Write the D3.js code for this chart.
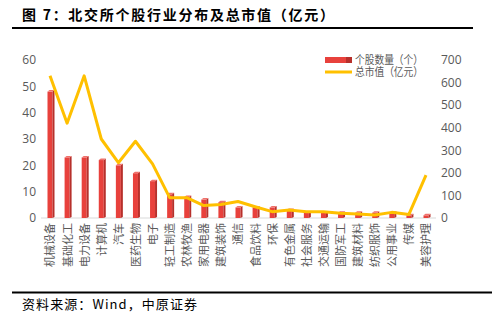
<!DOCTYPE html>
<html>
<head>
<meta charset="utf-8">
<script src="https://cdn.jsdelivr.net/npm/d3@7"></script>
<style>
  body { margin: 0; background: #fff; }
  svg text { font-family: "Noto Sans CJK SC", "Noto Sans", sans-serif; }
</style>
</head>
<body>
<div id="chart"></div>
<script>
// industries, ordered as in the figure
const industries = ['机械设备', '基础化工', '电力设备', '计算机', '汽车', '医药生物', '电子', '轻工制造',
  '农林牧渔', '家用电器', '建筑装饰', '通信', '食品饮料', '环保', '有色金属', '社会服务', '交通运输',
  '国防军工', '建筑材料', '纺织服饰', '公用事业', '传媒', '美容护理'];
// number of listed stocks per industry (left axis)
const stockCount = [48, 23, 23, 22, 20, 17, 14, 9, 8, 7, 6, 4, 4, 4, 3, 2, 2, 2, 2, 2, 2, 1, 1];
// total market value, 亿元 (right axis)
const marketValue = [630, 420, 630, 350, 245, 340, 240, 90, 90, 55, 60, 73, 50, 28, 35, 28, 28, 21, 18, 13, 25, 16, 190];

const leftTicks = [0, 10, 20, 30, 40, 50, 60];
const rightTicks = [0, 100, 200, 300, 400, 500, 600, 700];

const W = 492, H = 322;
const plot = { left: 41, right: 436, top: 60, bottom: 218 };

const svg = d3.select('#chart').append('svg')
  .attr('width', W)
  .attr('height', H);

// title and rules
svg.append('text')
  .attr('x', 22).attr('y', 20)
  .attr('textLength', 312)
  .attr('lengthAdjust', 'spacing')
  .style('font-size', '14px')
  .style('font-weight', 'bold')
  .style('fill', '#000')
  .text('图 7：北交所个股行业分布及总市值（亿元）');
svg.append('rect').attr('x', 12).attr('y', 27).attr('width', 461).attr('height', 2).attr('fill', '#000');
svg.append('rect').attr('x', 12).attr('y', 291.5).attr('width', 480).attr('height', 2).attr('fill', '#000');
svg.append('text')
  .attr('x', 22).attr('y', 309)
  .attr('textLength', 175)
  .attr('lengthAdjust', 'spacing')
  .style('font-size', '13px')
  .style('fill', '#000')
  .text('资料来源：Wind，中原证券');

// scales
const x = d3.scalePoint()
  .domain(industries)
  .range([50, 426]);
const yL = d3.scaleLinear().domain([0, 60]).range([plot.bottom, plot.top]);
const yR = d3.scaleLinear().domain([0, 700]).range([plot.bottom, plot.top]);

// baseline
svg.append('line')
  .attr('x1', plot.left).attr('x2', plot.right)
  .attr('y1', plot.bottom).attr('y2', plot.bottom)
  .attr('stroke', '#d9d9d9').attr('stroke-width', 1);

const styleAxis = (g) => {
  g.select('.domain').remove();
  g.selectAll('text').style('font-size', '12px').style('fill', '#595959')
    .style('font-family', '"Open Sans", "Noto Sans", sans-serif');
};

svg.append('g')
  .attr('transform', `translate(${plot.left - 5}, 0)`)
  .call(d3.axisLeft(yL).tickValues(leftTicks).tickSize(0).tickPadding(0))
  .call(styleAxis);

svg.append('g')
  .attr('transform', `translate(441, 0)`)
  .call(d3.axisRight(yR).tickValues(rightTicks).tickSize(0).tickPadding(0))
  .call(styleAxis);

// category labels, rotated
const xAxis = svg.append('g')
  .attr('transform', `translate(0, ${plot.bottom})`)
  .call(d3.axisBottom(x).tickSize(0));
xAxis.select('.domain').remove();
xAxis.selectAll('text')
  .attr('transform', 'rotate(-90)')
  .attr('x', -5)
  .attr('y', 0)
  .attr('dy', '0.36em')
  .style('text-anchor', 'end')
  .style('font-size', '11px')
  .style('fill', '#595959');

// bars with a little 3D look
const bw = 5, side = 2;
const bars = svg.append('g').selectAll('g')
  .data(industries)
  .enter()
  .append('g');

bars.append('rect')
  .attr('x', (d) => x(d) - bw / 2)
  .attr('y', (d, i) => yL(stockCount[i]))
  .attr('width', bw)
  .attr('height', (d, i) => plot.bottom - yL(stockCount[i]))
  .attr('fill', '#e8413c');

bars.append('polygon')
  .attr('points', (d, i) => {
    const x0 = x(d) + bw / 2, y0 = yL(stockCount[i]), yb = plot.bottom;
    return `${x0},${y0} ${x0 + side},${y0 - 1.5} ${x0 + side},${yb - 1} ${x0},${yb}`;
  })
  .attr('fill', '#b7302b');

bars.append('polygon')
  .attr('points', (d, i) => {
    const x0 = x(d) - bw / 2, y0 = yL(stockCount[i]);
    return `${x0},${y0} ${x0 + side},${y0 - 1.5} ${x0 + bw + side},${y0 - 1.5} ${x0 + bw},${y0}`;
  })
  .attr('fill', '#f0716b');

// market value line
const line = d3.line()
  .x((d, i) => x(industries[i]))
  .y((d) => yR(d));

svg.append('path')
  .datum(marketValue)
  .attr('d', line)
  .attr('fill', 'none')
  .attr('stroke', '#ffc000')
  .attr('stroke-width', 3)
  .attr('stroke-linejoin', 'round');

// legend
const legend = svg.append('g');
legend.append('rect').attr('x', 325).attr('y', 57).attr('width', 21).attr('height', 6).attr('fill', '#e8413c');
legend.append('rect').attr('x', 346).attr('y', 57).attr('width', 6).attr('height', 6).attr('fill', '#b7302b');
legend.append('line')
  .attr('x1', 325).attr('x2', 352).attr('y1', 72).attr('y2', 72)
  .attr('stroke', '#ffc000').attr('stroke-width', 3);
legend.append('text').attr('x', 355).attr('y', 64)
  .attr('textLength', 68).attr('lengthAdjust', 'spacingAndGlyphs')
  .style('font-size', '11.5px').style('fill', '#595959').text('个股数量（个）');
legend.append('text').attr('x', 355).attr('y', 76)
  .attr('textLength', 68).attr('lengthAdjust', 'spacingAndGlyphs')
  .style('font-size', '11.5px').style('fill', '#595959').text('总市值（亿元）');
</script>
</body>
</html>
